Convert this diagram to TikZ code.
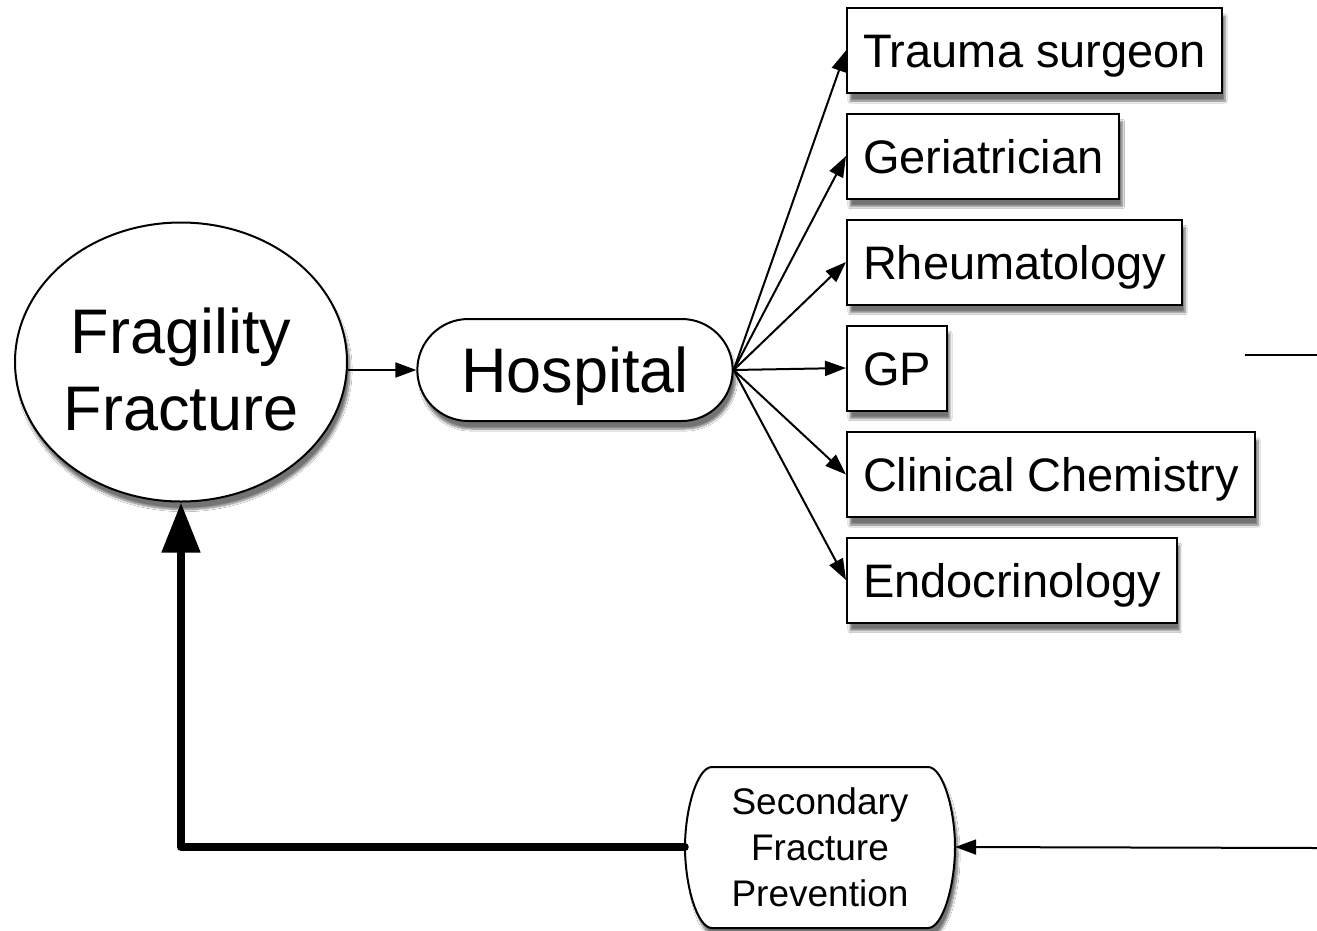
\documentclass[tikz,border=0pt]{standalone}
\usepackage{fontspec}
\setmainfont{Liberation Sans}
\usetikzlibrary{arrows.meta,shapes.geometric,shapes.misc,shadows.blur}
\begin{document}
\begin{tikzpicture}[x=1pt,y=-1pt,
  shd/.style={blur shadow={shadow xshift=3pt,shadow yshift=-8pt,shadow blur steps=8,shadow opacity=55}},
  spec/.style={draw,line width=2pt,fill=white,shd,anchor=west,inner xsep=16pt,
    minimum height=85pt,text height=34pt,text depth=0pt,font=\fontsize{47}{52}\selectfont},
  conn/.style={line width=2pt,draw=black,draw opacity=1,fill opacity=1,
    -{Triangle[length=21pt,width=15pt,fill=black]}},
  thick conn/.style={line width=8pt,line join=round,line cap=round,draw=black,
    draw opacity=1,fill opacity=1,-{Triangle[length=50pt,width=37pt,fill=black]}}]
\useasboundingbox (0,0) rectangle (1317,930);
\fill[white] (0,0) rectangle (1317,930);

\node[ellipse,draw,line width=2pt,fill=white,shd,minimum width=332pt,minimum height=279pt,
  inner sep=0pt,text height=136pt,text depth=0pt,
  align=center,font=\fontsize{63}{77}\selectfont] (ff) at (181,362) {Fragility\\Fracture};
\node[rounded rectangle,draw,line width=2pt,fill=white,shd,minimum width=322pt,minimum height=102pt,
  font=\fontsize{63}{70}\selectfont,text height=45pt,text depth=0pt] (hosp) at (575,370) {Hospital};

\node[spec] (t1) at (846,50.5) {Trauma surgeon};
\node[spec] (t2) at (846,156) {Geriatrician};
\node[spec] (t3) at (846,262) {Rheumatology};
\node[spec] (t4) at (846,368) {GP};
\node[spec] (t5) at (846,474.5) {Clinical Chemistry};
\node[spec] (t6) at (846,580) {Endocrinology};

\path[draw,line width=2pt,fill=white,shd] (712,767) -- (928,767)
  .. controls (943,767) and (955,810) .. (955,847)
  .. controls (955,885) and (943,928) .. (928,928) -- (712,928)
  .. controls (697,928) and (685,885) .. (685,847)
  .. controls (685,810) and (697,767) .. (712,767) -- cycle;
\node[minimum width=270pt,minimum height=162pt,align=center,inner sep=0pt,
  font=\fontsize{37}{46}\selectfont] (sfp) at (820,847) {Secondary\\Fracture\\Prevention};

\coordinate (r1) at (1245,355);
\coordinate (r2) at (1317,355);
\coordinate (r3) at (1317,848);
\coordinate (bend) at (ff.south |- sfp.west);

\draw[conn] (hosp.west -| ff.east) -- (hosp.west);
\foreach \n in {t1,t2,t3,t4,t5,t6}
  \draw[conn] (hosp.east) -- (\n.west);
\draw[line width=2pt] (r1) -- (r2);
\draw[conn] (r3) -- (sfp.east);
\draw[thick conn] (sfp.west) -- (bend) -- (ff.south);
\end{tikzpicture}
\end{document}
